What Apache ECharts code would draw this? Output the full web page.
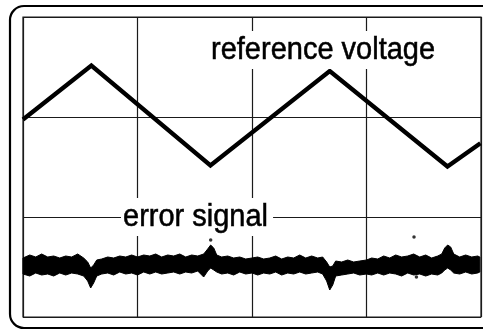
<!DOCTYPE html>
<html>
<head>
<meta charset="utf-8">
<script src="https://cdn.jsdelivr.net/npm/echarts@6/dist/echarts.min.js"></script>
<style>
html,body{margin:0;padding:0;background:#fff;}
#chart{width:483px;height:331px;}
</style>
</head>
<body>
<div id="chart"></div>
<script>
// reference voltage (triangle wave), x in divisions, y in divisions
const refTime = [0, 0.597, 1.637, 2.679, 3.707, 3.995];
const refVolt = [1.975, 2.515, 1.515, 2.46, 1.505, 1.737];

// error signal: noisy band, read as upper and lower envelope
const errTime = [0.00,0.059,0.111,0.163,0.216,0.268,0.321,0.373,0.425,0.478,0.530,0.565,0.591,0.617,0.644,0.687,0.740,0.792,0.845,0.897,0.949,1.00,1.054,1.107,1.159,1.211,1.264,1.316,1.369,1.421,1.473,1.526,1.578,1.613,1.639,1.666,1.692,1.735,1.788,1.840,1.893,1.945,2.00,2.050,2.102,2.155,2.207,2.259,2.312,2.364,2.417,2.469,2.521,2.574,2.617,2.652,2.679,2.705,2.731,2.783,2.836,2.888,2.941,3.00,3.045,3.098,3.150,3.203,3.255,3.307,3.360,3.412,3.465,3.517,3.569,3.622,3.657,3.683,3.709,3.735,3.762,3.814,3.866,3.919,3.971,3.99];
const errHigh = [0.59,0.62,0.60,0.63,0.60,0.61,0.59,0.61,0.60,0.63,0.59,0.55,0.49,0.52,0.57,0.58,0.60,0.59,0.61,0.60,0.62,0.60,0.62,0.61,0.63,0.60,0.62,0.61,0.63,0.60,0.62,0.61,0.63,0.68,0.72,0.69,0.62,0.60,0.61,0.59,0.60,0.58,0.59,0.60,0.58,0.59,0.61,0.58,0.60,0.59,0.62,0.59,0.61,0.59,0.60,0.55,0.50,0.51,0.56,0.55,0.57,0.55,0.56,0.57,0.59,0.58,0.61,0.59,0.62,0.60,0.61,0.63,0.60,0.62,0.59,0.61,0.63,0.69,0.72,0.70,0.63,0.60,0.62,0.60,0.61,0.60];
const errLow = [0.43,0.41,0.44,0.42,0.43,0.41,0.44,0.42,0.44,0.43,0.41,0.36,0.29,0.34,0.41,0.43,0.44,0.42,0.45,0.43,0.44,0.42,0.45,0.43,0.45,0.43,0.44,0.45,0.43,0.45,0.44,0.46,0.40,0.46,0.49,0.47,0.45,0.43,0.44,0.42,0.45,0.43,0.44,0.42,0.44,0.43,0.45,0.42,0.44,0.43,0.45,0.43,0.44,0.45,0.43,0.36,0.27,0.32,0.41,0.42,0.43,0.44,0.42,0.43,0.42,0.44,0.42,0.44,0.43,0.41,0.44,0.42,0.43,0.41,0.43,0.42,0.44,0.47,0.49,0.47,0.44,0.43,0.45,0.43,0.44,0.45];

// stray dots
const dotTime = [1.639, 3.415, 3.436];
const dotVolt = [0.77, 0.80, 0.40];

const chart = echarts.init(document.getElementById('chart'), null, {renderer: 'canvas'});

// band rows: [time, high, low]
const bandRows = errTime.map((t, i) => [t, errHigh[i], errLow[i]]);

function renderBand(params, api) {
  if (params.dataIndex !== 0) return null;
  const upper = [], lower = [];
  for (let i = 0; i < bandRows.length; i++) {
    upper.push(api.coord([bandRows[i][0], bandRows[i][1]]));
    lower.push(api.coord([bandRows[i][0], bandRows[i][2]]));
  }
  const pts = upper.concat(lower.reverse());
  return {
    type: 'polygon',
    shape: {points: pts},
    style: {fill: '#000', stroke: '#000', lineWidth: 1}
  };
}

const option = {
  animation: false,
  backgroundColor: '#fff',
  grid: {left: 23, top: 17, width: 458, height: 300, show: true, borderColor: '#1a1a1a', borderWidth: 1.2, backgroundColor: 'transparent'},
  xAxis: {
    type: 'value', min: 0, max: 4, interval: 1,
    axisLine: {show: false}, axisTick: {show: false}, axisLabel: {show: false},
    splitLine: {show: true, lineStyle: {color: '#1a1a1a', width: 1.2}}
  },
  yAxis: {
    type: 'value', min: 0, max: 3, interval: 1,
    axisLine: {show: false}, axisTick: {show: false}, axisLabel: {show: false},
    splitLine: {show: true, lineStyle: {color: '#1a1a1a', width: 1.2}}
  },
  series: [
    {
      type: 'line', name: 'reference voltage',
      data: refTime.map((t, i) => [t, refVolt[i]]),
      showSymbol: false, smooth: false,
      lineStyle: {color: '#000', width: 4.4, join: 'miter'},
      z: 3
    },
    {
      type: 'custom', name: 'error signal',
      data: bandRows,
      encode: {x: 0, y: [1, 2]},
      renderItem: renderBand,
      z: 3
    },
    {
      type: 'scatter', name: 'dots',
      data: dotTime.map((t, i) => [t, dotVolt[i]]),
      symbolSize: 3.5, itemStyle: {color: '#000'},
      z: 3
    }
  ],
  graphic: [
    {
      type: 'rect', z: 100,
      shape: {x: 10, y: 6, width: 490, height: 322, r: 14},
      style: {fill: 'none', stroke: '#000', lineWidth: 2.2}
    },
    {
      type: 'text', z: 100, x: 207, y: 50, scaleY: 1.08,
      style: {
        text: 'reference voltage', fill: '#000', stroke: '#000', lineWidth: 0.5,
        font: '29px "Liberation Sans", Arial, sans-serif',
        textAlign: 'left', textVerticalAlign: 'middle',
        backgroundColor: '#fff', padding: [3, 4, 3, 4]
      }
    },
    {
      type: 'text', z: 100, x: 121, y: 217, scaleY: 1.08,
      style: {
        text: 'error signal', fill: '#000', stroke: '#000', lineWidth: 0.5,
        font: '29px "Liberation Sans", Arial, sans-serif',
        textAlign: 'left', textVerticalAlign: 'middle',
        backgroundColor: '#fff', padding: [3, 5, 3, 2]
      }
    }
  ]
};
chart.setOption(option);
</script>
</body>
</html>
